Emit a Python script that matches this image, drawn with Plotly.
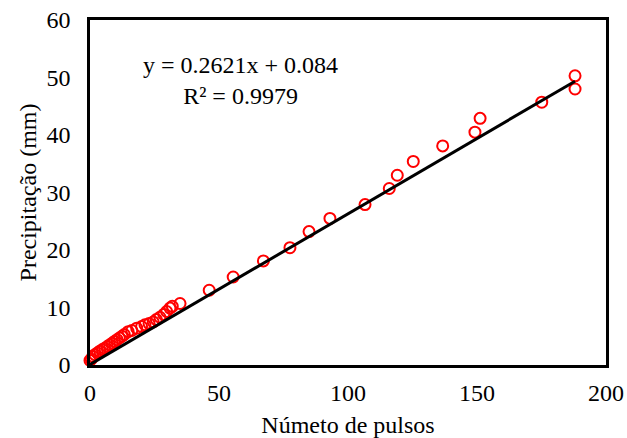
import numpy as np
import plotly.graph_objects as go

pulsos = [0, 0.5, 1.1, 1.9, 2.9, 3.8, 4.8, 5.7, 6.7, 7.6, 8.6, 9.5, 10.5, 11.4, 12.4, 13.3,
          14.8, 16.2, 18.1, 20.0, 21.3, 22.9, 24.5, 25.7, 27.1, 28.6, 29.7, 31.0, 31.9, 34.9,
          46.2, 55.5, 67.2, 77.5, 84.9, 93.0, 106.6, 116.0, 119.1, 125.3,
          136.7, 149.2, 151.2, 175.1, 188.0, 188.0]
precip = [0.8, 1.0, 1.5, 1.8, 2.1, 2.4, 2.7, 2.9, 3.2, 3.5, 3.8, 4.1, 4.4, 4.7, 5.0, 5.3,
          5.8, 6.0, 6.4, 6.7, 7.0, 7.2, 7.5, 7.9, 8.3, 8.8, 9.3, 9.9, 10.2, 10.7,
          13.0, 15.3, 18.1, 20.4, 23.2, 25.5, 27.9, 30.7, 33.0, 35.4,
          38.1, 40.5, 42.9, 45.7, 50.3, 48.0]

# Linear trend line (Excel-style) as given on the chart
trend_slope = 0.2621
trend_intercept = 0.084
trend_x = np.array([min(pulsos), max(pulsos)])
trend_y = trend_slope * trend_x + trend_intercept

equation_text = "y = 0.2621x + 0.084<br>R² = 0.9979"

x_ticks = [0, 50, 100, 150, 200]
y_ticks = [0, 10, 20, 30, 40, 50, 60]

FONT = "Liberation Serif, Times New Roman, serif"
FS = 24

fig = go.Figure()
fig.add_trace(go.Scatter(
    x=pulsos, y=precip, mode="markers",
    marker=dict(symbol="circle-open", size=11, color="#FF0000",
                line=dict(width=2, color="#FF0000")),
    showlegend=False, cliponaxis=False))
fig.add_trace(go.Scatter(
    x=trend_x, y=trend_y, mode="lines",
    line=dict(color="black", width=3), showlegend=False))

fig.add_annotation(
    x=0.291, y=0.825, xref="paper", yref="paper",
    xanchor="center", yanchor="middle",
    text=equation_text, showarrow=False, align="center",
    font=dict(family=FONT, size=FS, color="black"))

fig.update_layout(
    width=627, height=438,
    margin=dict(l=90, r=21, t=20, b=73),
    paper_bgcolor="white", plot_bgcolor="white",
    font=dict(family=FONT, size=FS, color="black"),
)
fig.update_xaxes(
    range=[0, 200], tickvals=x_ticks, showgrid=False, zeroline=False,
    showline=True, linecolor="black", linewidth=2.5, mirror=True,
    ticks="", ticklabelstandoff=4, automargin=False,
    title=dict(text="Númeto de pulsos", font=dict(family=FONT, size=FS), standoff=18))
fig.update_yaxes(
    range=[0, 60], tickvals=y_ticks, showgrid=False, zeroline=False,
    showline=True, linecolor="black", linewidth=2.5, mirror=True,
    ticks="", ticklabelstandoff=12, automargin=False,
    title=dict(text="Precipitação (mm)", font=dict(family=FONT, size=FS), standoff=4))

fig.write_html("out.html")
